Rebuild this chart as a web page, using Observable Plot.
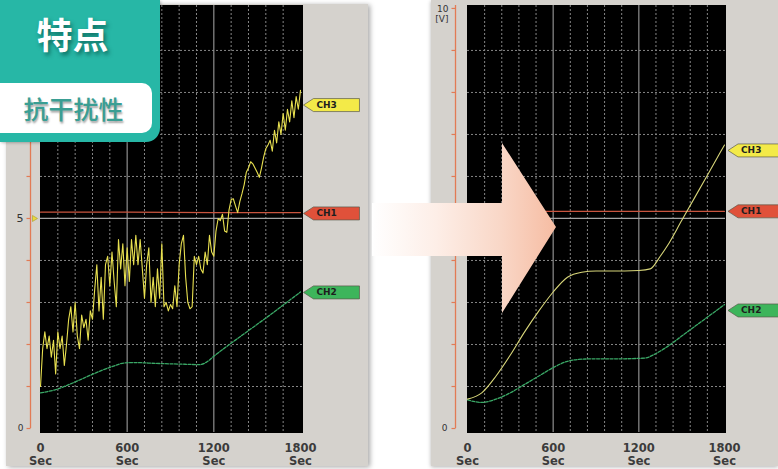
<!DOCTYPE html>
<html><head><meta charset="utf-8">
<script src="https://cdn.jsdelivr.net/npm/d3@7"></script>
<script src="https://cdn.jsdelivr.net/npm/@observablehq/plot@0.6"></script>
<style>
html,body{margin:0;padding:0;background:#fff;}
#page{position:relative;width:778px;height:469px;overflow:hidden;background:#fff;}
.panel{position:absolute;background:#d5d2cd;overflow:visible;}
.panel svg{position:absolute;left:0;top:0;}
#left{left:6px;top:4px;width:362px;height:462px;box-shadow:2px 1px 5px rgba(0,0,0,.35);}
#right{left:431px;top:0;width:347px;height:466px;box-shadow:0 1px 4px rgba(0,0,0,.3);}
#arrow{position:absolute;left:0;top:0;pointer-events:none;}
#badge{position:absolute;left:0;top:0;width:160px;height:142px;background:#27b7a6;border-radius:0 0 14px 0;box-shadow:1px 1px 3px rgba(0,0,0,.25);}
#badge .t1{position:absolute;left:0;top:12px;width:145px;text-align:center;font:700 36px/42px "Noto Sans CJK SC",sans-serif;color:#fff;text-shadow:2px 3px 4px rgba(0,70,62,.65);}
#badge .box{position:absolute;left:0;top:83px;width:152px;height:50px;background:#fff;border-radius:0 10px 10px 0;}
#badge .t2{position:absolute;left:0;top:0;width:147px;text-align:center;font:500 25px/50px "Noto Sans CJK SC",sans-serif;color:#3a9e93;text-shadow:1px 2px 2px rgba(0,0,0,.35);}
</style></head>
<body>
<div id="page">
  <div id="left" class="panel"></div>
  <div id="right" class="panel"></div>
  <svg id="arrow" width="778" height="469">
    <defs>
      <linearGradient id="ag" gradientUnits="userSpaceOnUse" x1="372" y1="0" x2="556" y2="0">
        <stop offset="0" stop-color="#ffffff"/>
        <stop offset="0.35" stop-color="#fdeee7"/>
        <stop offset="0.7" stop-color="#f9d7c7"/>
        <stop offset="1" stop-color="#f6bca2"/>
      </linearGradient>
    </defs>
    <polygon points="372,203 502,203 502,143 556,227 502,313 502,256 372,256" fill="url(#ag)"/>
  </svg>
  <div id="badge">
    <div class="t1">特点</div>
    <div class="box"><div class="t2">抗干扰性</div></div>
  </div>
</div>
<script>
// ---------- data ----------
const xTicks = [0, 600, 1200, 1800];
const majorGridTimes = [600, 1200];
const minorGridTimes = [120, 240, 360, 480, 720, 840, 960, 1080, 1320, 1440, 1560, 1680];
const voltGrid = [1, 2, 3, 4, 6, 7, 8, 9];
const voltTicks = [0, 1, 2, 3, 4, 5, 6, 7, 8, 9, 10];
const refLevel = [5];
const channelNames = ["CH3", "CH1", "CH2"];

// left panel (with interference)
const ch3LeftStep = 15;
const ch3LeftVolts = [
  1.0, 1.9, 2.3, 1.9, 2.2, 1.7, 2.1, 1.3, 2.3, 1.9, 2.2, 1.5, 2.0,
  2.6, 2.9, 2.3, 3.0, 2.2, 1.9, 2.7, 2.4, 2.6, 2.1, 2.8, 2.6,
  3.3, 3.9, 2.8, 3.6, 2.6, 3.9, 4.1, 3.4, 4.2, 3.5, 2.9, 4.5,
  3.8, 4.4, 3.4, 4.3, 3.5, 4.5, 3.9, 4.6, 3.9, 4.5, 3.8, 3.1,
  3.9, 4.3, 3.0, 3.6, 2.9, 3.8, 3.1, 4.4, 2.9, 3.0, 2.8, 2.95,
  2.85, 3.4, 2.9, 3.9, 4.4, 4.6, 3.6, 3.0, 2.85, 2.9, 4.1, 3.9,
  4.1, 3.8, 3.7, 4.2, 3.9, 4.6, 4.2, 4.1, 4.7, 5.0, 4.95, 5.1,
  4.7, 4.67, 5.2, 5.45, 5.47, 5.3, 5.14, 5.4, 5.59, 5.8, 6.1, 6.2,
  6.35, 6.3, 6.2, 6.1, 5.98, 6.2, 6.46, 6.66, 6.75, 6.86, 6.6, 7.1,
  6.8, 7.3, 7.0, 7.5, 7.1, 7.6, 7.3, 7.8, 7.4, 7.9, 7.6, 8.05
];
const ch2LeftTimes = [0, 50, 100, 200, 300, 400, 500, 580, 650, 800, 1000, 1100, 1150, 1200, 1300, 1400, 1500, 1600, 1700, 1800];
const ch2LeftVolts = [0.85, 0.88, 0.92, 1.05, 1.2, 1.35, 1.48, 1.56, 1.57, 1.55, 1.53, 1.52, 1.58, 1.72, 1.98, 2.23, 2.48, 2.73, 2.99, 3.25];
const ch1LeftTimes = [0, 600, 1200, 1800];
const ch1LeftVolts = [5.15, 5.15, 5.14, 5.14];
const leftTagLevels = [7.7, 5.12, 3.24];

// right panel (filtered)
const ch3RightTimes = [0, 100, 200, 300, 400, 500, 600, 700, 800, 900, 1000, 1100, 1200, 1280, 1350, 1400, 1500, 1600, 1700, 1800];
const ch3RightVolts = [0.7, 0.85, 1.25, 1.75, 2.3, 2.8, 3.25, 3.6, 3.72, 3.75, 3.75, 3.75, 3.76, 3.8, 4.1, 4.35, 4.95, 5.55, 6.15, 6.75];
const ch2RightTimes = [0, 100, 200, 300, 400, 500, 600, 700, 800, 900, 1000, 1100, 1200, 1250, 1300, 1400, 1500, 1600, 1700, 1800];
const ch2RightVolts = [0.68, 0.62, 0.7, 0.85, 1.05, 1.25, 1.45, 1.6, 1.65, 1.66, 1.66, 1.66, 1.67, 1.68, 1.75, 1.95, 2.2, 2.45, 2.7, 2.95];
const ch1RightTimes = [0, 600, 1200, 1800];
const ch1RightVolts = [5.17, 5.17, 5.17, 5.17];
const rightTagLevels = [6.62, 5.17, 2.81];

// ---------- helpers ----------
const zip = (ts, vs) => ts.map((t, i) => ({t, v: vs[i]}));
const tagColors = {CH3: "#f3ea48", CH1: "#e0513a", CH2: "#3db55b"};
const tagShape = {draw(ctx) { ctx.moveTo(0, 0); ctx.lineTo(10, -6.5); ctx.lineTo(56, -6.5); ctx.lineTo(56, 6.5); ctx.lineTo(10, 6.5); ctx.closePath(); }};
const tickShape = {draw(ctx) { ctx.moveTo(-4, 0); ctx.lineTo(0, 0); }};
const pointerShape = {draw(ctx) { ctx.moveTo(0, -3); ctx.lineTo(5, 0); ctx.lineTo(0, 3); ctx.closePath(); }};
const Y_DOMAIN = [-0.095, 10.07];
const ORANGE = "#e27b55";

function panel(o) {
  const tags = channelNames.map((name, i) => ({name, v: o.tagLevels[i]}));
  return Plot.plot({
    width: o.width, height: o.height,
    marginLeft: o.ml, marginRight: o.mr, marginTop: o.mt, marginBottom: o.mb,
    x: {domain: [0, o.xMax], axis: null},
    y: {domain: Y_DOMAIN, axis: null},
    style: {background: "transparent", fontFamily: "DejaVu Sans", overflow: "visible"},
    marks: [
      Plot.frame({fill: "#000", stroke: "#000"}),
      Plot.ruleX(minorGridTimes, {stroke: "#858585", strokeDasharray: "2,2", strokeWidth: 1}),
      Plot.ruleY(voltGrid, {stroke: "#858585", strokeDasharray: "2,2", strokeWidth: 1}),
      Plot.ruleX(majorGridTimes, {stroke: "#8e8e8e", strokeWidth: 1.2}),
      Plot.ruleY(refLevel, {stroke: "#a3a3a3", strokeWidth: 1.3}),
      Plot.line(o.ch1, {x: "t", y: "v", stroke: "#c9553f", strokeWidth: 1.1}),
      Plot.line(o.ch2, {x: "t", y: "v", stroke: "#3aa866", strokeWidth: 1.3, strokeDasharray: "3,1.5", curve: "monotone-x"}),
      Plot.line(o.ch3, {x: "t", y: "v", stroke: o.ch3Color, strokeWidth: o.ch3Width, curve: o.ch3Curve}),
      // channel tags
      Plot.dot(tags, {x: () => 1800, y: "v", dx: o.tagDx, symbol: tagShape, fill: d => tagColors[d.name], stroke: "#5a5a4a", strokeWidth: 0.7}),
      Plot.text(tags, {x: () => 1800, y: "v", dx: o.tagDx + 13, text: "name", textAnchor: "start", fontSize: 9, fontWeight: "bold", fill: "#1e1e1e"}),
      // orange volt axis
      Plot.ruleX([0], {y1: 0, y2: Y_DOMAIN[1], dx: o.axisDx, stroke: ORANGE, strokeWidth: 1.3}),
      Plot.dot(voltTicks, {y: d => d, frameAnchor: "left", dx: o.axisDx, symbol: tickShape, fill: "none", stroke: ORANGE, strokeWidth: 1.2}),
      // x labels
      Plot.text(xTicks, {x: d => d, frameAnchor: "bottom", dy: 10, lineAnchor: "top", text: d => `${d}\nSec`, lineHeight: 1.13, fontSize: 11.5, fontWeight: "bold", fill: "#3c3c3c"}),
      ...o.extra
    ]
  });
}

const leftExtra = [
  Plot.text([0, 5], {y: d => d, frameAnchor: "left", dx: -17, textAnchor: "end", text: d => String(d), fontSize: d => d === 5 ? 11 : 9, fill: "#333"}),
  Plot.dot(refLevel, {y: d => d, frameAnchor: "left", dx: -8, symbol: pointerShape, fill: "#e8da3c", stroke: "#a8982a", strokeWidth: 0.6})
];
const rightExtra = [
  Plot.text([0], {y: d => d, frameAnchor: "left", dx: -20, textAnchor: "end", text: d => String(d), fontSize: 9, fill: "#333"}),
  Plot.text([10], {y: d => d, frameAnchor: "left", dx: -19, dy: -3, textAnchor: "end", lineAnchor: "top", text: d => `${d}\n[V]`, lineHeight: 1.1, fontSize: 9, fill: "#333"})
];

// SVGs are a little taller than the gray panels so the bottom labels are not clipped
document.getElementById("left").append(panel({
  width: 362, height: 465, ml: 34, mr: 66, mt: 1, mb: 37, xMax: 1814,
  axisDx: -10, tagDx: 3, tagLevels: leftTagLevels,
  ch1: zip(ch1LeftTimes, ch1LeftVolts),
  ch2: zip(ch2LeftTimes, ch2LeftVolts),
  ch3: ch3LeftVolts.map((v, i) => ({t: i * ch3LeftStep, v})),
  ch3Color: "#e8e050", ch3Width: 1.1, ch3Curve: "linear",
  extra: leftExtra
}));

document.getElementById("right").append(panel({
  width: 347, height: 469, ml: 36, mr: 53, mt: 5, mb: 37, xMax: 1807,
  axisDx: -12, tagDx: 3.5, tagLevels: rightTagLevels,
  ch1: zip(ch1RightTimes, ch1RightVolts),
  ch2: zip(ch2RightTimes, ch2RightVolts),
  ch3: zip(ch3RightTimes, ch3RightVolts),
  ch3Color: "#d8d67a", ch3Width: 1.1, ch3Curve: "monotone-x",
  extra: rightExtra
}));
</script>
</body></html>
